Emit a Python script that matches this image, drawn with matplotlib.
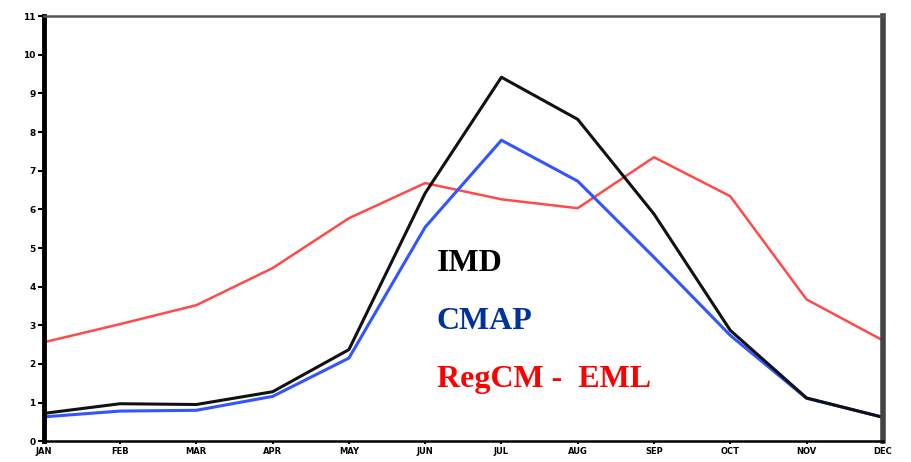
import numpy as np
import matplotlib
matplotlib.use('Agg')
import matplotlib.pyplot as plt

months = ['JAN', 'FEB', 'MAR', 'APR', 'MAY', 'JUN',
          'JUL', 'AUG', 'SEP', 'OCT', 'NOV', 'DEC']
imd = [0.72, 0.97, 0.95, 1.28, 2.37, 6.42, 9.42, 8.33, 5.88, 2.87, 1.12, 0.62]
cmap = [0.63, 0.78, 0.80, 1.16, 2.15, 5.54, 7.79, 6.73, 4.76, 2.74, 1.11, 0.62]
regcm = [2.56, 3.03, 3.52, 4.48, 5.77, 6.68, 6.26, 6.03, 7.35, 6.34, 3.67, 2.61]
yticks = list(range(0, 12))

fig = plt.figure(figsize=(9.12, 4.62), dpi=100)
ax = fig.add_axes([0.048, 0.045, 0.92, 0.92])

x = np.arange(len(months))
ax.plot(x, regcm, color='#ff4a4a', lw=1.8)
ax.plot(x, cmap, color='#3355ff', lw=2.2)
ax.plot(x, imd, color='#111111', lw=2.2)

ax.set_xlim(0, 11)
ax.set_ylim(0, 11)
ax.set_xticks(x)
ax.set_xticklabels(months, fontsize=6, fontweight='bold', family='DejaVu Sans')
ax.set_yticks(yticks)
ax.set_yticklabels([str(v) for v in yticks], fontsize=6.5, fontweight='bold',
                   family='DejaVu Sans')
ax.tick_params(axis='both', direction='out', length=4, width=1.5, pad=2)
ax.tick_params(axis='x', length=2)

ax.spines['left'].set_linewidth(3.5)
ax.spines['left'].set_color('black')
ax.spines['bottom'].set_linewidth(1.8)
ax.spines['bottom'].set_color('black')
ax.spines['top'].set_linewidth(1.8)
ax.spines['top'].set_color('#555555')
ax.spines['right'].set_linewidth(4)
ax.spines['right'].set_color('#444444')

# labels placed by image pixel position (origin top-left)
W, H = 912, 462
tfont = dict(family='Liberation Serif', fontweight='bold', fontsize=23)
fig.text(437 / W, 1 - 271 / H, 'IMD', color='black', va='baseline', **tfont)
fig.text(437 / W, 1 - 329 / H, 'CMAP', color='#003399', va='baseline', **tfont)
fig.text(437 / W, 1 - 387 / H, 'RegCM -  EML', color='#ff0000', va='baseline', **tfont)

fig.savefig('out.png', dpi=100)
